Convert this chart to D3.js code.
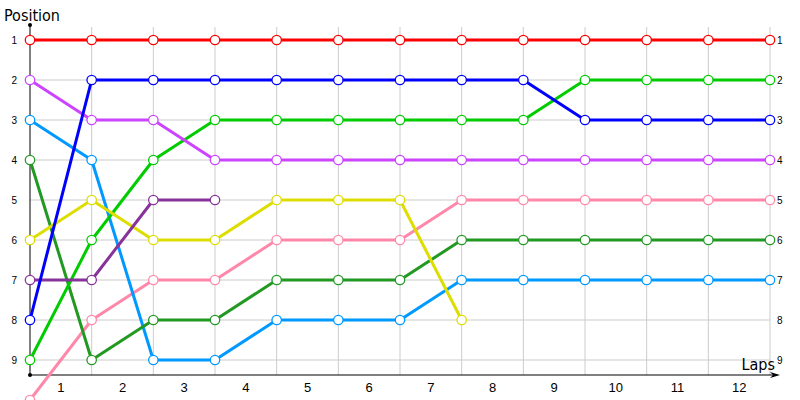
<!DOCTYPE html>
<html>
<head>
<meta charset="utf-8">
<script src="https://cdn.jsdelivr.net/npm/d3@7"></script>
<style>
  body { margin: 0; background: #fff; }
  svg { display: block; font-family: 'DejaVu Sans Condensed', 'DejaVu Sans', sans-serif; }
  .grid line { stroke: #cccccc; stroke-width: 1; }
  .tick text { fill: #000; }
</style>
</head>
<body>
<div id="chart"></div>
<script>
// laps 0..12 (start + 12 laps), finishing positions per lap
const laps = [1, 2, 3, 4, 5, 6, 7, 8, 9, 10, 11, 12];
const positions = [1, 2, 3, 4, 5, 6, 7, 8, 9];

const redPos = [1, 1, 1, 1, 1, 1, 1, 1, 1, 1, 1, 1, 1];
const bluePos = [8, 2, 2, 2, 2, 2, 2, 2, 2, 3, 3, 3, 3];
const greenPos = [9, 6, 4, 3, 3, 3, 3, 3, 3, 2, 2, 2, 2];
const violetPos = [2, 3, 3, 4, 4, 4, 4, 4, 4, 4, 4, 4, 4];
const skyPos = [3, 4, 9, 9, 8, 8, 8, 7, 7, 7, 7, 7, 7];
const darkGreenPos = [4, 9, 8, 8, 7, 7, 7, 6, 6, 6, 6, 6, 6];
const yellowPos = [6, 5, 6, 6, 5, 5, 5, 8];
const plumPos = [7, 7, 5, 5];
const pinkPos = [10, 8, 7, 7, 6, 6, 6, 5, 5, 5, 5, 5, 5];

// drawing order, bottom to top
const series = [
  { name: 'pink', color: '#ff88aa', values: pinkPos },
  { name: 'sky', color: '#0099ff', values: skyPos },
  { name: 'darkGreen', color: '#229922', values: darkGreenPos },
  { name: 'green', color: '#00cc00', values: greenPos },
  { name: 'yellow', color: '#dddd00', values: yellowPos },
  { name: 'plum', color: '#883399', values: plumPos },
  { name: 'violet', color: '#cc44ff', values: violetPos },
  { name: 'blue', color: '#0000ff', values: bluePos },
  { name: 'red', color: '#ff0000', values: redPos }
];

const width = 800, height = 400;
const plotLeft = 30, plotRight = 770, plotTop = 40, plotBottom = 360, axisY = 375;

const svg = d3.select('#chart').append('svg')
  .attr('width', width)
  .attr('height', height);

const x = d3.scaleLinear().domain([0, laps.length]).range([plotLeft, plotRight]);
const xBand = d3.scaleBand().domain(laps).range([plotLeft, plotRight]);
const y = d3.scaleLinear().domain([1, 9]).range([plotTop, plotBottom]);

// grid
const grid = svg.append('g').attr('class', 'grid');
grid.selectAll('.h').data(positions).enter().append('line')
  .attr('x1', plotLeft).attr('x2', plotRight)
  .attr('y1', d => y(d)).attr('y2', d => y(d));
grid.selectAll('.v').data(d3.range(1, laps.length + 1)).enter().append('line')
  .attr('x1', d => x(d)).attr('x2', d => x(d))
  .attr('y1', 27).attr('y2', axisY);

// axes
svg.append('g')
  .attr('transform', `translate(${plotLeft - 10},0)`)
  .call(d3.axisLeft(y).tickValues(positions).tickSize(0).tickPadding(3))
  .call(g => g.select('.domain').remove())
  .call(g => g.selectAll('text').attr('font-size', 10).attr('dy', '0.35em'));

svg.append('g')
  .attr('transform', `translate(${plotRight + 7},0)`)
  .call(d3.axisRight(y).tickValues(positions).tickSize(0).tickPadding(0))
  .call(g => g.select('.domain').remove())
  .call(g => g.selectAll('text').attr('font-size', 10).attr('dy', '0.35em'));

svg.append('g')
  .attr('transform', `translate(0,${axisY})`)
  .call(d3.axisBottom(xBand).tickSize(0).tickPadding(8))
  .call(g => g.select('.domain').remove())
  .call(g => g.selectAll('text').attr('font-size', 13));

svg.append('line')
  .attr('x1', plotLeft).attr('x2', plotLeft)
  .attr('y1', 25).attr('y2', axisY)
  .attr('stroke', '#000').attr('stroke-width', 1);
svg.append('line')
  .attr('x1', plotLeft).attr('x2', plotRight + 6)
  .attr('y1', axisY).attr('y2', axisY)
  .attr('stroke', '#000').attr('stroke-width', 1.2);
svg.append('circle').attr('cx', plotLeft).attr('cy', 25).attr('r', 2).attr('fill', '#000');
svg.append('circle').attr('cx', plotLeft).attr('cy', axisY).attr('r', 2).attr('fill', '#000');
svg.append('path')
  .attr('d', `M${plotRight + 10},${axisY} L${plotRight},${axisY - 3} L${plotRight + 3},${axisY} L${plotRight},${axisY + 3} Z`)
  .attr('fill', '#000');

// titles
svg.append('text').attr('x', 4).attr('y', 21)
  .attr('font-size', 16).text('Position');
svg.append('text').attr('x', 775).attr('y', 370)
  .attr('text-anchor', 'end').attr('font-size', 16).text('Laps');

// lines and markers
const line = d3.line().x((d, i) => x(i)).y(d => y(d));
const groups = svg.selectAll('.series').data(series).enter()
  .append('g').attr('class', 'series');

groups.append('path')
  .attr('d', d => line(d.values))
  .attr('fill', 'none')
  .attr('stroke', d => d.color)
  .attr('stroke-width', 3)
  .attr('stroke-linejoin', 'round');

groups.selectAll('circle')
  .data(d => d.values.map((v, i) => ({ v, i, color: d.color })))
  .enter().append('circle')
  .attr('cx', d => x(d.i))
  .attr('cy', d => y(d.v))
  .attr('r', 4.7)
  .attr('fill', '#fff')
  .attr('stroke', d => d.color)
  .attr('stroke-width', 1.3);
</script>
</body>
</html>
